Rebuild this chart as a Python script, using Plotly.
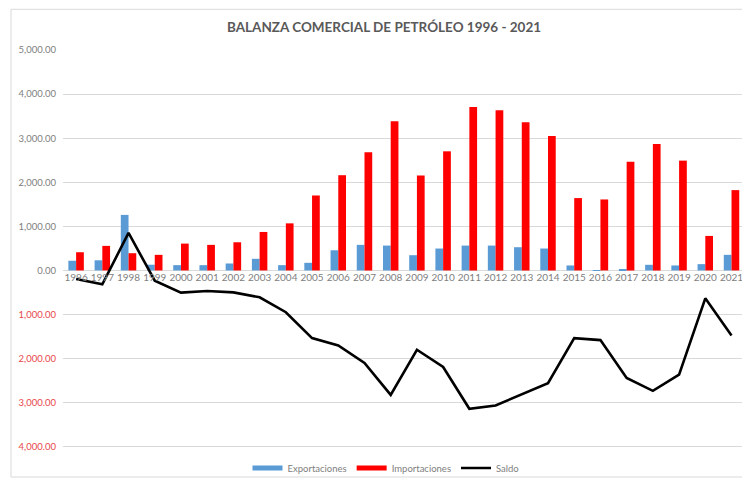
import plotly.graph_objects as go

years = [str(y) for y in range(1996, 2022)]
exportaciones = [220, 230, 1260, 130, 120, 120, 158, 264, 120, 173, 458, 580, 564,
                 346, 497, 564, 564, 527, 497, 113, 8, 22, 128, 113, 143, 354]
importaciones = [413, 557, 391, 354, 609, 580, 639, 873, 1068, 1700, 2160, 2679, 3386,
                 2151, 2702, 3709, 3634, 3363, 3047, 1641, 1610, 2468, 2867, 2491, 783, 1822]
saldo = [-196, -316, 851, -233, -503, -467, -497, -609, -948, -1535, -1700, -2099, -2822,
         -1799, -2190, -3138, -3063, -2815, -2558, -1535, -1580, -2438, -2731, -2363, -632, -1474]
y_ticks = [5000, 4000, 3000, 2000, 1000, 0, -1000, -2000, -3000, -4000]

W, H = 742, 483
ML, MT, MB = 63, 50, 3
y_min, y_max = -4685, 5000
plot_h = H - MT - MB
plot_w = W - ML

BLUE = "#5B9BD5"
RED = "#FF0000"


def px_to_paper_y(py):
    return (H - MB - py) / plot_h


def px_to_paper_x(px):
    return (px - ML) / plot_w


tick_text = []
for v in y_ticks:
    s = f"{abs(v):,.2f}"
    if v < 0:
        s = f"<span style='color:#E8474A'>{s}</span>"
    tick_text.append(s)

fig = go.Figure()
fig.add_trace(go.Bar(x=years, y=exportaciones, name="Exportaciones",
                     legendgroup="exp", showlegend=False,
                     marker=dict(color=BLUE, line=dict(width=0))))
fig.add_trace(go.Bar(x=years, y=importaciones, name="Importaciones",
                     legendgroup="imp", showlegend=False,
                     marker=dict(color=RED, line=dict(width=0))))
fig.add_trace(go.Scatter(x=years, y=saldo, name="Saldo", mode="lines",
                         legendrank=3,
                         line=dict(color="#000000", width=2.6)))

# legend keys drawn as flat Excel-like rectangles
for rank, (name, col, grp) in enumerate([("Exportaciones", BLUE, "exp"),
                                         ("Importaciones", RED, "imp")], start=1):
    fig.add_trace(go.Scatter(x=[None], y=[None], name=name, mode="lines",
                             legendgroup=grp, legendrank=rank,
                             line=dict(color=col, width=5)))

fig.update_layout(
    width=W, height=H,
    margin=dict(l=ML, r=0, t=MT, b=MB),
    paper_bgcolor="white", plot_bgcolor="white",
    font=dict(family="Lato, Open Sans, sans-serif", color="#808080", size=10),
    title=dict(text="<b>BALANZA COMERCIAL DE PETRÓLEO 1996 - 2021</b>",
               x=384 / W, xanchor="center", y=1 - 27 / H, yanchor="middle",
               font=dict(size=13.5, color="#595959", family="Lato, sans-serif")),
    barmode="group", bargap=0.41, bargroupgap=0,
    showlegend=True,
    legend=dict(orientation="h", x=px_to_paper_x(386), xanchor="center",
                y=px_to_paper_y(471), yanchor="middle",
                traceorder="normal",
                font=dict(size=9.5, color="#808080"),
                itemwidth=30, bgcolor="rgba(0,0,0,0)"),
    xaxis=dict(type="category", range=[-0.5, 25.4], automargin=False,
               anchor="free", position=(0 - y_min) / (y_max - y_min),
               showgrid=False, showline=False, ticks="",
               tickfont=dict(size=10, color="#808080")),
    yaxis=dict(range=[y_min, y_max], tickvals=y_ticks, ticktext=tick_text,
               automargin=False,
               showgrid=True, gridcolor="#D9D9D9", gridwidth=1,
               zeroline=True, zerolinecolor="#D9D9D9", zerolinewidth=1,
               showline=False, ticks="", ticklabelstandoff=6,
               tickfont=dict(size=9.5, color="#808080")),
)

# chart area frame (Excel-style border)
fig.add_shape(type="rect", xref="paper", yref="paper",
              x0=px_to_paper_x(11), x1=px_to_paper_x(760),
              y0=px_to_paper_y(480), y1=px_to_paper_y(9),
              line=dict(color="#D9D9D9", width=1), layer="below")

# drop the default page margin so the figure sits at the window's corner
fig.write_html("out.html", config={"displayModeBar": False},
               post_script="document.body.style.margin = '0';")
